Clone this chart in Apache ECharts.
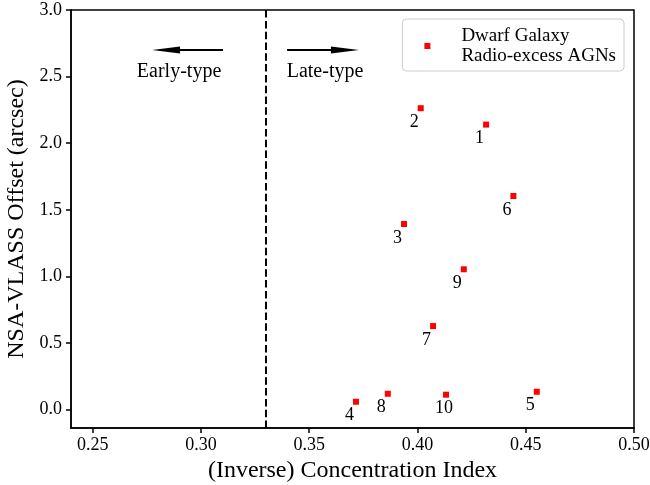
<!DOCTYPE html>
<html>
<head>
<meta charset="utf-8">
<script src="https://cdn.jsdelivr.net/npm/echarts@6/dist/echarts.min.js"></script>
<style>
  html, body { margin: 0; padding: 0; background: #fff; }
  #chart { width: 650px; height: 485px; }
</style>
</head>
<body>
<div id="chart"></div>
<script>
// galaxy ids, inverse concentration index (x) and NSA-VLASS offset in arcsec (y)
const ids = ['1', '2', '3', '4', '5', '6', '7', '8', '9', '10'];
const concIndex = [0.4317, 0.4015, 0.3938, 0.3716, 0.4551, 0.4443, 0.4072, 0.3863, 0.4214, 0.4132];
const offsets = [2.140, 2.263, 1.394, 0.060, 0.135, 1.604, 0.628, 0.120, 1.054, 0.113];

const xTicks = [0.25, 0.30, 0.35, 0.40, 0.45, 0.50];
const yTicks = [0.0, 0.5, 1.0, 1.5, 2.0, 2.5, 3.0];

const seriesName = 'Dwarf Galaxy\nRadio-excess AGNs';
const font = 'Liberation Serif';

const points = ids.map((id, i) => ({ name: id, value: [concIndex[i], offsets[i]] }));

const chart = echarts.init(document.getElementById('chart'));

const option = {
    animation: false,
    textStyle: { fontFamily: font },
    grid: {
        left: 71,
        right: 16,
        top: 10,
        bottom: 57,
        outerBoundsMode: 'none',
        containLabel: false,
        show: true,
        borderColor: '#000',
        borderWidth: 1.5,
    },
    legend: {
        data: [seriesName],
        right: 26,
        top: 19,
        icon: 'rect',
        itemWidth: 6,
        itemHeight: 6,
        padding: [7, 8, 5, 22],
        backgroundColor: '#fff',
        borderColor: '#cccccc',
        borderWidth: 1,
        borderRadius: 4,
        textStyle: {
            fontFamily: font,
            fontSize: 19,
            lineHeight: 20,
            color: '#000',
            padding: [0, 0, 0, 26],
        },
    },
    xAxis: {
        type: 'value',
        min: 0.24,
        max: 0.5,
        name: '(Inverse) Concentration Index',
        nameLocation: 'middle',
        nameGap: 17,
        nameTextStyle: { fontFamily: font, fontSize: 24, color: '#000' },
        axisLine: { show: true, onZero: false, lineStyle: { color: '#000', width: 1.5 } },
        axisTick: {
            show: true,
            inside: false,
            length: 5,
            customValues: xTicks,
            lineStyle: { color: '#000', width: 1.5 },
        },
        axisLabel: {
            margin: 8,
            fontFamily: font,
            fontSize: 18,
            color: '#000',
            customValues: xTicks,
            formatter: (v) => v.toFixed(2),
        },
        splitLine: { show: false },
    },
    yAxis: {
        type: 'value',
        min: -0.137,
        max: 3.0,
        name: 'NSA-VLASS Offset (arcsec)',
        nameLocation: 'middle',
        nameGap: 35,
        nameTextStyle: { fontFamily: font, fontSize: 24, color: '#000' },
        axisLine: { show: true, onZero: false, lineStyle: { color: '#000', width: 1.5 } },
        axisTick: {
            show: true,
            inside: false,
            length: 5,
            customValues: yTicks,
            lineStyle: { color: '#000', width: 1.5 },
        },
        axisLabel: {
            margin: 9,
            fontFamily: font,
            fontSize: 18,
            color: '#000',
            customValues: yTicks,
            formatter: (v) => v.toFixed(1),
        },
        splitLine: { show: false },
    },
    series: [
        {
            name: seriesName,
            type: 'scatter',
            symbol: 'rect',
            symbolSize: 6,
            itemStyle: { color: '#ff0000', opacity: 1 },
            data: points,
            label: {
                show: true,
                formatter: '{b}',
                position: 'inside',
                align: 'left',
                verticalAlign: 'middle',
                offset: [-11, 14],
                fontFamily: font,
                fontSize: 18,
                color: '#000',
                opacity: 1,
            },
            z: 3,
        },
        {
            // annotations: divider line, arrows and type labels
            name: 'annot',
            type: 'scatter',
            data: [],
            silent: true,
            markLine: {
                silent: true,
                animation: false,
                label: { show: false },
                emphasis: { disabled: true },
                data: [
                    [
                        { coord: [0.33, -0.137], symbol: 'none', lineStyle: { type: [7.5, 3.3], width: 2, color: '#000' } },
                        { coord: [0.33, 3.0], symbol: 'none' },
                    ],
                    [
                        { coord: [0.3102, 2.70], symbol: 'none', lineStyle: { type: 'solid', width: 2, color: '#000' } },
                        { coord: [0.2839, 2.70], symbol: 'triangle', symbolSize: [7, 28] },
                    ],
                    [
                        { coord: [0.3398, 2.70], symbol: 'none', lineStyle: { type: 'solid', width: 2, color: '#000' } },
                        { coord: [0.3665, 2.70], symbol: 'triangle', symbolSize: [7, 28] },
                    ],
                ],
            },
            markPoint: {
                silent: true,
                symbol: 'circle',
                symbolSize: 1,
                itemStyle: { color: 'rgba(0,0,0,0)' },
                label: {
                    show: true,
                    position: 'inside',
                    formatter: '{c}',
                    fontFamily: font,
                    fontSize: 20,
                    color: '#000',
                },
                data: [
                    { coord: [0.2899, 2.535], value: 'Early-type' },
                    { coord: [0.3573, 2.535], value: 'Late-type' },
                ],
            },
        },
    ],
};

chart.setOption(option);
</script>
</body>
</html>
